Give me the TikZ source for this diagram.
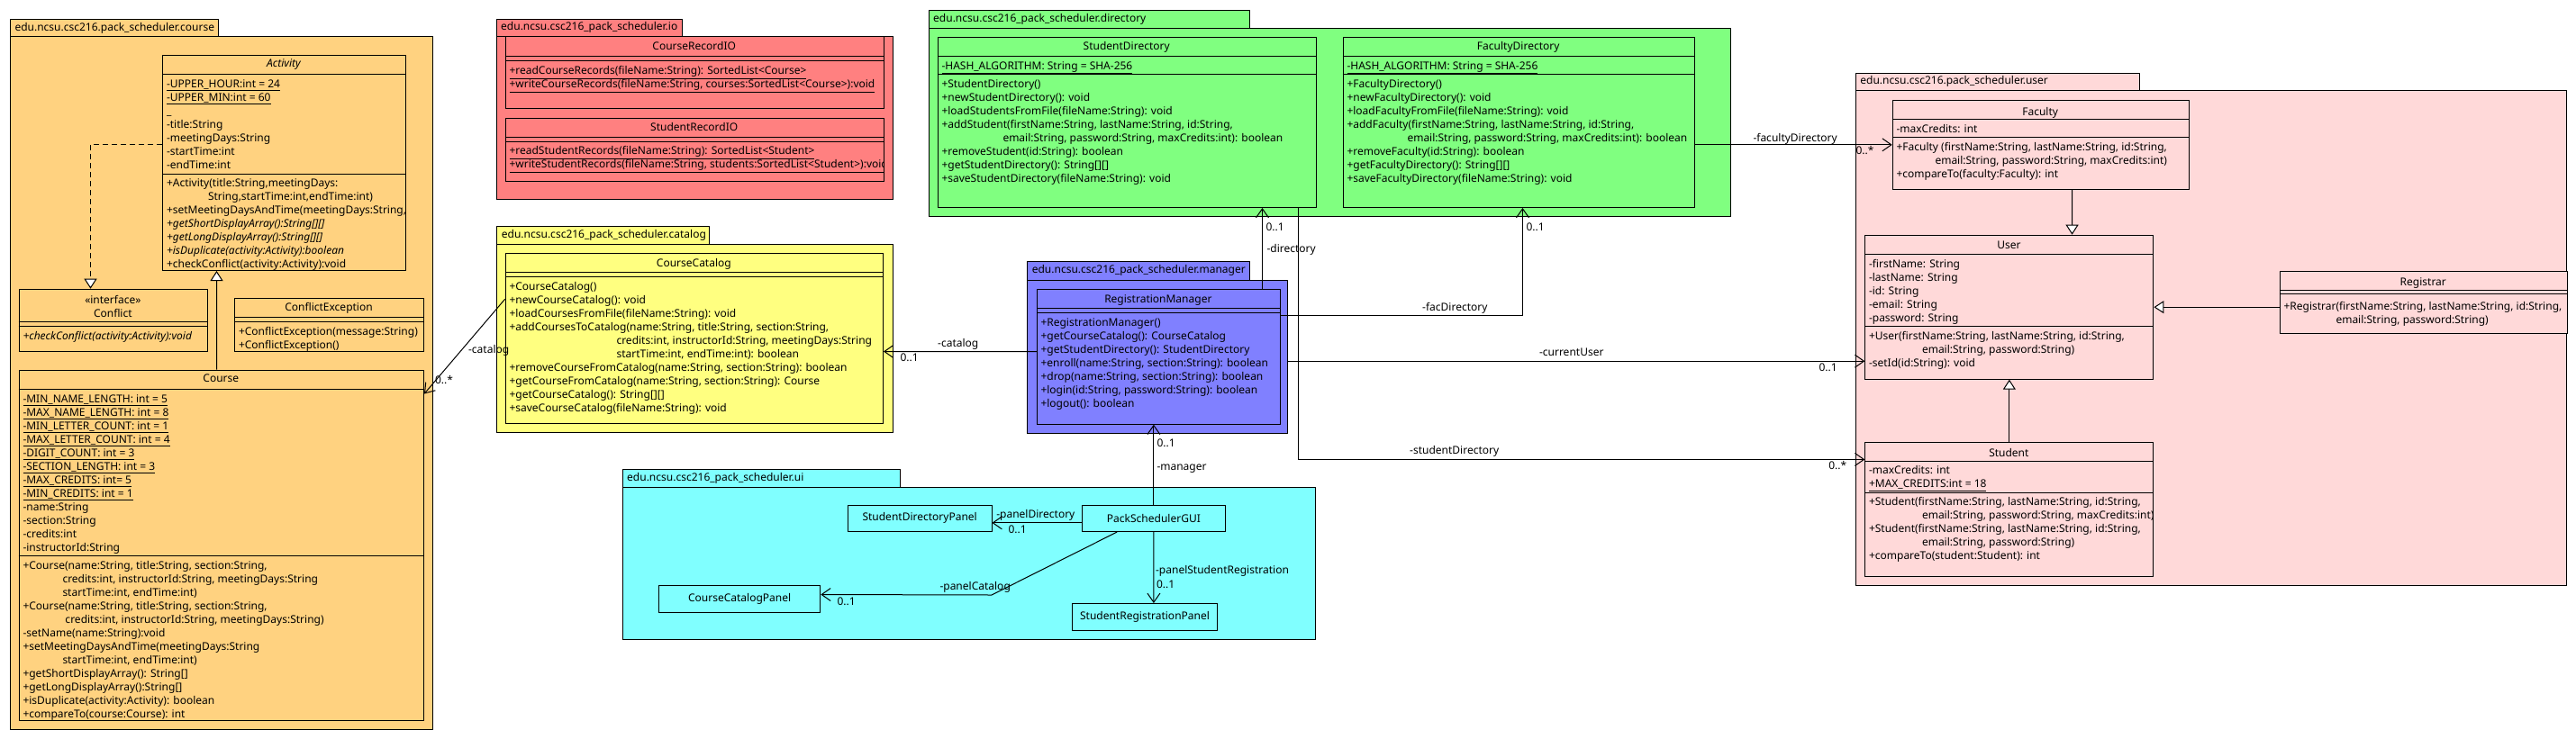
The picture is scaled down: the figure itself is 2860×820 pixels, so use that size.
\documentclass[tikz,border=0pt]{standalone}
\usepackage{fontspec}
\setmainfont{Noto Sans}
\usetikzlibrary{arrows.meta,positioning}
\definecolor{coursefill}{HTML}{FFD280}
\definecolor{iofill}{HTML}{FF8080}
\definecolor{catfill}{HTML}{FFFF80}
\definecolor{dirfill}{HTML}{80FF80}
\definecolor{mgrfill}{HTML}{8080FF}
\definecolor{uifill}{HTML}{80FFFF}
\definecolor{userfill}{HTML}{FFD9D9}

\begin{document}
\begin{tikzpicture}[x=1pt,y=-1pt,line width=1pt,every node/.style={font=\fontsize{12}{15}\selectfont}]
  \tikzstyle{pkgtab}=[draw,anchor=north west,inner xsep=5pt,inner ysep=0pt,align=left]
  \tikzstyle{pkgbody}=[draw,anchor=north west,inner sep=0pt]
  \tikzstyle{classbox}=[draw,anchor=north west,inner sep=0pt]
  \tikzstyle{clsname}=[inner sep=0pt,text height=9pt,text depth=3pt]
  \tikzstyle{members}=[anchor=north west,inner sep=0pt,align=left]
  \tikzstyle{lbl}=[anchor=west,inner sep=0pt,text height=9pt,text depth=3pt]
  \tikzstyle{assoc}=[-{Straight Barb[length=10pt,width=14pt]}]
  \tikzstyle{inherit}=[-{Triangle[length=11pt,width=14pt,fill=white]}]
  \tikzstyle{realize}=[inherit,dash pattern=on 6pt off 4pt]

  \path[use as bounding box,fill=white] (0,0) rectangle (2860,820);

  % packages
  \node[pkgtab,fill=coursefill,text width=221pt,minimum height=19pt] (coursetab) at (11,21) {edu.ncsu.csc216.pack\_scheduler.course};
  \node[pkgbody,fill=coursefill,minimum width=469pt,minimum height=770pt] (coursepkg) at (11,40) {};
  \node[pkgtab,fill=iofill,text width=196pt,minimum height=19.3pt] (iotab) at (550.7,20.7) {edu.ncsu.csc216\_pack\_scheduler.io};
  \node[pkgbody,fill=iofill,minimum width=440pt,minimum height=180.7pt] (iopkg) at (550.7,40) {};
  \node[pkgtab,fill=catfill,text width=226pt,minimum height=20pt] (cattab) at (551.4,250.7) {edu.ncsu.csc216\_pack\_scheduler.catalog};
  \node[pkgbody,fill=catfill,minimum width=439.3pt,minimum height=209.3pt] (catpkg) at (551.4,270.7) {};
  \node[pkgtab,fill=dirfill,text width=346pt,minimum height=20pt] (dirtab) at (1030.7,10.7) {edu.ncsu.csc216\_pack\_scheduler.directory};
  \node[pkgbody,fill=dirfill,minimum width=890pt,minimum height=209.3pt] (dirpkg) at (1030.7,30.7) {};
  \node[pkgtab,fill=mgrfill,text width=237pt,minimum height=20.7pt] (mgrtab) at (1140.3,290) {edu.ncsu.csc216\_pack\_scheduler.manager};
  \node[pkgbody,fill=mgrfill,minimum width=289pt,minimum height=170pt] (mgrpkg) at (1140.3,310.7) {};
  \node[pkgtab,fill=uifill,text width=298pt,minimum height=20pt] (uitab) at (690.7,520.7) {edu.ncsu.csc216\_pack\_scheduler.ui};
  \node[pkgbody,fill=uifill,minimum width=769.7pt,minimum height=169.3pt] (uipkg) at (690.7,540.7) {};
  \node[pkgtab,fill=userfill,text width=304.8pt,minimum height=19.3pt] (usertab) at (2059.9,80.7) {edu.ncsu.csc216.pack\_scheduler.user};
  \node[pkgbody,fill=userfill,minimum width=789.1pt,minimum height=550pt] (userpkg) at (2059.9,100) {};

  % class boxes
  \node[classbox,fill=coursefill,minimum width=270pt,minimum height=239pt] (activity) at (180,61) {};
  \node[classbox,fill=coursefill,minimum width=209.3pt,minimum height=69.3pt] (conflict) at (20.7,320.7) {};
  \node[classbox,fill=coursefill,minimum width=210pt,minimum height=59.3pt] (conflictexc) at (260,330.7) {};
  \node[classbox,fill=coursefill,minimum width=449.3pt,minimum height=389.3pt] (course) at (20.7,410.7) {};
  \node[classbox,fill=iofill,minimum width=420pt,minimum height=80pt] (courseio) at (560.7,40) {};
  \node[classbox,fill=iofill,minimum width=420pt,minimum height=70pt] (studentio) at (560.7,130.7) {};
  \node[classbox,fill=catfill,minimum width=419.3pt,minimum height=189.3pt] (catalog) at (560.7,280.7) {};
  \node[classbox,fill=dirfill,minimum width=420pt,minimum height=189.3pt] (studir) at (1040.7,40.7) {};
  \node[classbox,fill=dirfill,minimum width=390pt,minimum height=189.3pt] (facdir) at (1490.7,40.7) {};
  \node[classbox,fill=mgrfill,minimum width=270.1pt,minimum height=150pt] (regmgr) at (1150.8,320.7) {};
  \node[classbox,fill=userfill,minimum width=328.9pt,minimum height=99.3pt] (faculty) at (2100.7,110.7) {};
  \node[classbox,fill=userfill,minimum width=320.1pt,minimum height=160pt] (user) at (2070.3,260.7) {};
  \node[classbox,fill=userfill,minimum width=319.4pt,minimum height=69.3pt] (registrar) at (2530.6,300.7) {};
  \node[classbox,fill=userfill,minimum width=320.1pt,minimum height=149.3pt] (student) at (2070.3,490.7) {};

  % ui classes
  \node[classbox,fill=uifill,minimum width=159.7pt,minimum height=29.3pt] (sdpanel) at (940.8,560.7) {};
  \node at (sdpanel.center) {StudentDirectoryPanel};
  \node[classbox,fill=uifill,minimum width=159.6pt,minimum height=29.3pt] (gui) at (1200.6,560.7) {};
  \node at (gui.center) {PackSchedulerGUI};
  \node[classbox,fill=uifill,minimum width=179.4pt,minimum height=30pt] (ccpanel) at (730.9,650) {};
  \node at (ccpanel.center) {CourseCatalogPanel};
  \node[classbox,fill=uifill,minimum width=160.2pt,minimum height=30pt] (srpanel) at (1190.4,670) {};
  \node at (srpanel.center) {StudentRegistrationPanel};

  % compartment lines
  \foreach \l/\r/\y in {180/450/82, 180/450/193, 20.7/230/357.7, 20.7/230/362, 260/470/352, 260/470/357,
      20.7/470/432.7, 20.7/470/617.7, 560.7/980.7/62.3, 560.7/980.7/67.3, 560.7/980.7/152.7, 560.7/980.7/157.3,
      560.7/980/302.3, 560.7/980/307.3, 1040.7/1460.7/62.3, 1040.7/1460.7/82.3, 1490.7/1880.7/62.3, 1490.7/1880.7/82.3,
      1150.8/1420.9/342.3, 1150.8/1420.9/347.3, 2100.7/2429.6/132.3, 2100.7/2429.6/152.3, 2070.3/2390.4/282.7,
      2070.3/2390.4/362.7, 2530.6/2850/322.3, 2530.6/2850/326.7, 2070.3/2390.4/512.3, 2070.3/2390.4/547.3}
    \draw (\l,\y) -- (\r,\y);

  % class names
  \node[clsname,font=\fontsize{12}{15}\selectfont\itshape] (activity-name) at (315,71.5) {Activity};
  \node[align=center,inner sep=0pt] (conflict-name) at (125.35,340.2) {«interface»\\Conflict};
  \node[clsname] (conflictexc-name) at (365,342.7) {ConflictException};
  \node[clsname] (course-name) at (245.35,421.7) {Course};
  \node[clsname] (courseio-name) at (770.7,52.7) {CourseRecordIO};
  \node[clsname] (studentio-name) at (770.7,142.7) {StudentRecordIO};
  \node[clsname] (catalog-name) at (770.35,293.3) {CourseCatalog};
  \node[clsname] (studir-name) at (1250.7,52.7) {StudentDirectory};
  \node[clsname] (facdir-name) at (1685.7,52.7) {FacultyDirectory};
  \node[clsname] (regmgr-name) at (1285.85,333.3) {RegistrationManager};
  \node[clsname] (faculty-name) at (2265.15,125) {Faculty};
  \node[clsname] (user-name) at (2230.35,273.3) {User};
  \node[clsname] (registrar-name) at (2690.3,314) {Registrar};
  \node[clsname] (student-name) at (2230.35,504) {Student};

  % members
  \node[members] (activity-attr) at (184.5,86.2) {\strut\underline{-UPPER\_HOUR:int = 24}\\
    \underline{-UPPER\_MIN:int = 60}\\
    \_\\
    -title:String\\
    -meetingDays:String\\
    -startTime:int\\
    -endTime:int};
  \begin{scope}
    \clip (activity.north west) rectangle (activity.south east);
    \node[members] (activity-ops) at (184.5,196.2) {\strut+Activity(title:String,meetingDays:\\
      \hspace*{46pt}String,startTime:int,endTime:int)\\
      +setMeetingDaysAndTime(meetingDays:String,\\
      \textit{+getShortDisplayArray():String[][]}\\
      \textit{+getLongDisplayArray():String[][]}\\
      \textit{+isDuplicate(activity:Activity):boolean}\\
      +checkConflict(activity:Activity):void};
  \end{scope}
  \node[members] (conflict-ops) at (25,366.2) {\strut\textit{+checkConflict(activity:Activity):void}};
  \node[members] (conflictexc-ops) at (264.5,361.2) {\strut+ConflictException(message:String)\\
    +ConflictException()};
  \node[members] (course-attr) at (25,436.2) {\strut\underline{-MIN\_NAME\_LENGTH: int = 5}\\
    \underline{-MAX\_NAME\_LENGTH: int = 8}\\
    \underline{-MIN\_LETTER\_COUNT: int = 1}\\
    \underline{-MAX\_LETTER\_COUNT: int = 4}\\
    \underline{-DIGIT\_COUNT: int = 3}\\
    \underline{-SECTION\_LENGTH: int = 3}\\
    \underline{-MAX\_CREDITS: int= 5}\\
    \underline{-MIN\_CREDITS: int = 1}\\
    -name:String\\
    -section:String\\
    -credits:int\\
    -instructorId:String};
  \node[members] (course-ops) at (25,621.2) {\strut+Course(name:String, title:String, section:String,\\
    \hspace*{44pt}credits:int, instructorId:String, meetingDays:String\\
    \hspace*{44pt}startTime:int, endTime:int)\\
    +Course(name:String, title:String, section:String,\\
    \hspace*{47pt}credits:int, instructorId:String, meetingDays:String)\\
    -setName(name:String):void\\
    +setMeetingDaysAndTime(meetingDays:String\\
    \hspace*{44pt}startTime:int, endTime:int)\\
    +getShortDisplayArray(): String[]\\
    +getLongDisplayArray():String[]\\
    +isDuplicate(activity:Activity): boolean\\
    +compareTo(course:Course): int};
  \node[members] (courseio-ops) at (565,71.8) {\strut\underline{+readCourseRecords(fileName:String): SortedList<Course>}\\
    \underline{+writeCourseRecords(fileName:String, courses:SortedList<Course>):void}};
  \begin{scope}
    \clip (studentio.north west) rectangle (studentio.south east);
    \node[members] (studentio-ops) at (565,160.8) {\strut\underline{+readStudentRecords(fileName:String): SortedList<Student>}\\
      \underline{+writeStudentRecords(fileName:String, students:SortedList<Student>):void}};
  \end{scope}
  \node[members] (catalog-ops) at (565,311.8) {\strut+CourseCatalog()\\
    +newCourseCatalog(): void\\
    +loadCoursesFromFile(fileName:String): void\\
    +addCoursesToCatalog(name:String, title:String, section:String,\\
    \hspace*{119pt}credits:int, instructorId:String, meetingDays:String\\
    \hspace*{119pt}startTime:int, endTime:int): boolean\\
    +removeCourseFromCatalog(name:String, section:String): boolean\\
    +getCourseFromCatalog(name:String, section:String): Course\\
    +getCourseCatalog(): String[][]\\
    +saveCourseCatalog(fileName:String): void};
  \node[members] (studir-attr) at (1045,66.2) {\strut\underline{-HASH\_ALGORITHM: String = SHA-256}};
  \node[members] (studir-ops) at (1045,86.2) {\strut+StudentDirectory()\\
    +newStudentDirectory(): void\\
    +loadStudentsFromFile(fileName:String): void\\
    +addStudent(firstName:String, lastName:String, id:String,\\
    \hspace*{68pt}email:String, password:String, maxCredits:int): boolean\\
    +removeStudent(id:String): boolean\\
    +getStudentDirectory(): String[][]\\
    +saveStudentDirectory(fileName:String): void};
  \node[members] (facdir-attr) at (1495,66.2) {\strut\underline{-HASH\_ALGORITHM: String = SHA-256}};
  \node[members] (facdir-ops) at (1495,86.2) {\strut+FacultyDirectory()\\
    +newFacultyDirectory(): void\\
    +loadFacultyFromFile(fileName:String): void\\
    +addFaculty(firstName:String, lastName:String, id:String,\\
    \hspace*{67pt}email:String, password:String, maxCredits:int): boolean\\
    +removeFaculty(id:String): boolean\\
    +getFacultyDirectory(): String[][]\\
    +saveFacultyDirectory(fileName:String): void};
  \node[members] (regmgr-ops) at (1155,351.8) {\strut+RegistrationManager()\\
    +getCourseCatalog(): CourseCatalog\\
    +getStudentDirectory(): StudentDirectory\\
    +enroll(name:String, section:String): boolean\\
    +drop(name:String, section:String): boolean\\
    +login(id:String, password:String): boolean\\
    +logout(): boolean};
  \node[members] (faculty-attr) at (2105,136.8) {\strut-maxCredits: int};
  \node[members] (faculty-ops) at (2105,156.2) {\strut+Faculty (firstName:String, lastName:String, id:String,\\
    \hspace*{43pt}email:String, password:String, maxCredits:int)\\
    +compareTo(faculty:Faculty): int};
  \node[members] (user-attr) at (2074.5,286.2) {\strut-firstName: String\\
    -lastName: String\\
    -id: String\\
    -email: String\\
    -password: String};
  \node[members] (user-ops) at (2074.5,366.2) {\strut+User(firstName:String, lastName:String, id:String,\\
    \hspace*{59pt}email:String, password:String)\\
    -setId(id:String): void};
  \node[members] (registrar-ops) at (2535,333.5) {\strut+Registrar(firstName:String, lastName:String, id:String,\\
    \hspace*{58pt}email:String, password:String)};
  \node[members] (student-attr) at (2074.5,515.8) {\strut-maxCredits: int\\
    \underline{+MAX\_CREDITS:int = 18}};
  \node[members] (student-ops) at (2074.5,550.8) {\strut+Student(firstName:String, lastName:String, id:String,\\
    \hspace*{59pt}email:String, password:String, maxCredits:int)\\
    +Student(firstName:String, lastName:String, id:String,\\
    \hspace*{59pt}email:String, password:String)\\
    +compareTo(student:Student): int};

  % generalization and realization
  \draw[realize] ([yshift=20.5pt]activity.west) -| ([xshift=-25.35pt]conflict.north);
  \draw[inherit] ([xshift=-5.35pt]course.north) -- ([xshift=-75pt]activity.south);
  \draw[inherit] ([xshift=34.9pt]faculty.south) -- ([xshift=69.7pt]user.north);
  \draw[inherit] ([yshift=-5.35pt]registrar.west) -- (user.east);
  \draw[inherit] (student.north) -- (user.south);

  % associations
  \draw[assoc] ([yshift=43.65pt]catalog.west) -- ([yshift=168.35pt]course.east);
  \draw[assoc] ([yshift=5.7pt]regmgr.west) -- ([yshift=-14.65pt]catalog.east);
  \draw[assoc] ([xshift=115.15pt]regmgr.north) -- ([xshift=150.3pt]studir.south);
  \draw[assoc] ([yshift=45.4pt]regmgr.east) -| ([xshift=4.3pt]facdir.south);
  \draw[assoc] ([yshift=-5pt]mgrpkg.east) -- ([yshift=-60pt]user.west);
  \draw[assoc] ([xshift=190pt]studir.south) |- ([yshift=55.4pt]student.west);
  \draw[assoc] ([yshift=-25pt]facdir.east) -- (faculty.west);
  \draw[assoc] (gui.north) -- ([xshift=-5.45pt]regmgr.south);
  \draw[assoc] ([yshift=-5pt]gui.west) -- ([yshift=-5pt]sdpanel.east);
  \draw[assoc] ([xshift=-40.7pt]gui.south) -- ++(-139.2,70) -- ([yshift=5pt]ccpanel.east);
  \draw[assoc] (gui.south) -- ([xshift=9.9pt]srpanel.north);

  % role names and multiplicities
  \node[lbl] (l-catalog) at (519.6,389.3) {-catalog};
  \node[lbl] (m-catalog) at (482.6,423.3) {0..*};
  \node[lbl] (l-mgrcatalog) at (1040.7,382.3) {-catalog};
  \node[lbl] (m-mgrcatalog) at (999,398.7) {0..1};
  \node[lbl] (l-directory) at (1406,277) {-directory};
  \node[lbl] (m-directory) at (1405,253.5) {0..1};
  \node[lbl] (l-facdir) at (1578.7,342) {-facDirectory};
  \node[lbl] (m-facdir) at (1694,253.5) {0..1};
  \node[lbl] (l-curuser) at (1708.5,392.3) {-currentUser};
  \node[lbl] (m-curuser) at (2019,409) {0..1};
  \node[lbl] (l-studir) at (1564.7,501.3) {-studentDirectory};
  \node[lbl] (m-studir) at (2029.8,518.7) {0..*};
  \node[lbl] (l-facultydir) at (1946,154) {-facultyDirectory};
  \node[lbl] (m-facultydir) at (2060,168) {0..*};
  \node[lbl] (l-manager) at (1284,519) {-manager};
  \node[lbl] (m-manager) at (1284,493.3) {0..1};
  \node[lbl] (l-paneldir) at (1105.8,572) {-panelDirectory};
  \node[lbl] (m-paneldir) at (1119,589.3) {0..1};
  \node[lbl] (l-panelcat) at (1043,652.7) {-panelCatalog};
  \node[lbl] (m-panelcat) at (929,669.3) {0..1};
  \node[lbl] (l-panelreg) at (1282.6,634) {-panelStudentRegistration};
  \node[lbl] (m-panelreg) at (1283.6,650) {0..1};
\end{tikzpicture}
\end{document}
